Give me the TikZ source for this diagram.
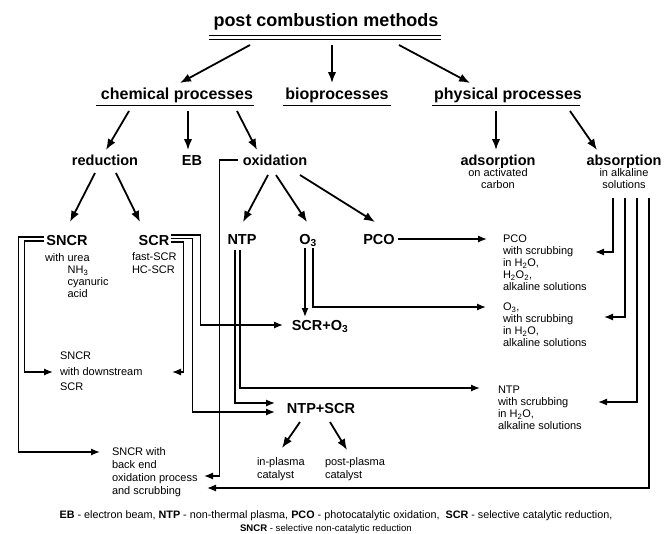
\documentclass[tikz,border=0pt]{standalone}
\usepackage{fontspec}
\setmainfont{Liberation Sans}
\usetikzlibrary{arrows.meta,calc}
\begin{document}
\begin{tikzpicture}[x=1pt,y=-1pt,
  every node/.style={inner sep=0pt, outer sep=0pt, text=black},
  lvlA/.style={font=\fontsize{18}{20}\selectfont\bfseries, anchor=base},
  lvlB/.style={font=\fontsize{16}{19}\selectfont\bfseries, anchor=base},
  lvlC/.style={font=\fontsize{14.5}{17}\selectfont\bfseries, anchor=base},
  note/.style={font=\fontsize{11}{12}\selectfont, align=left, anchor=north west},
  notec/.style={font=\fontsize{11}{12}\selectfont, align=center, anchor=north},
  heavy/.style={line width=1.8pt, -{Latex[length=11pt,width=8.5pt]}},
  route/.style={line width=1.3pt, -{Latex[length=9pt,width=7pt]}},
  uline/.style={line width=0.9pt},
  legfont/.style={font=\fontsize{10.8}{12}\selectfont},
  legfontb/.style={font=\fontsize{9.6}{11}\selectfont}
]
\useasboundingbox[fill=white] (0,0) rectangle (664,533);

% headings
\node[lvlA] (title) at (326,26) {post combustion methods};
\node[lvlB] (chem) at (177,99) {chemical processes};
\node[lvlB] (bio) at (337,99) {bioprocesses};
\node[lvlB] (phys) at (508,99) {physical processes};
\node[lvlC] (red) at (105,165) {reduction};
\node[lvlC] (eb) at (192,165) {EB};
\node[lvlC] (oxi) at (275,165) {oxidation};
\node[lvlC] (ads) at (498,165) {adsorption};
\node[lvlC] (abs) at (624,165) {absorption};
\node[notec] (adsnote) at (498,169) {on activated\\carbon};
\node[notec] (absnote) at (624,169) {in alkaline\\solutions};
\node[lvlC] (sncr) at (67,245) {SNCR};
\node[lvlC] (scr) at (154,245) {SCR};
\node[lvlC] (ntp) at (242,244) {NTP};
\node[lvlC] (o3) at (308,244) {O\textsubscript{3}};
\node[lvlC] (pco) at (379,244) {PCO};
\node[lvlC] (scro3) at (320,330) {SCR+O\textsubscript{3}};
\node[lvlC] (ntpscr) at (321,413) {NTP+SCR};

% small notes
\node[note, font=\fontsize{11}{11.7}\selectfont] (sncrnote) at (45,254) {with urea\\\phantom{with }NH\textsubscript{3}\\\phantom{with }cyanuric\\\phantom{with }acid};
\node[note, font=\fontsize{11}{13}\selectfont] (scrnote) at (132,253) {fast-SCR\\HC-SCR};
\node[note, font=\fontsize{11}{15.5}\selectfont] (sncrds) at (60,352) {SNCR\\with downstream\\SCR};
\node[note, font=\fontsize{11}{13}\selectfont] (sncrbe) at (112,448) {SNCR with\\back end\\oxidation process\\and scrubbing};
\node[note, font=\fontsize{11}{13}\selectfont] (inpl) at (257,458) {in-plasma\\catalyst};
\node[note, font=\fontsize{11}{13}\selectfont] (postpl) at (325,458) {post-plasma\\catalyst};
\node[note] (pcobox) at (503,235) {PCO\\with scrubbing\\in H\textsubscript{2}O,\\H\textsubscript{2}O\textsubscript{2},\\alkaline solutions};
\node[note] (o3box) at (503,303) {O\textsubscript{3},\\with scrubbing\\in H\textsubscript{2}O,\\alkaline solutions};
\node[note] (ntpbox) at (498,386) {NTP\\with scrubbing\\in H\textsubscript{2}O,\\alkaline solutions};

% legend
\node[legfont, anchor=base] (leg1) at (336,518) {\textbf{EB} - electron beam, \textbf{NTP} - non-thermal plasma, \textbf{PCO} - photocatalytic oxidation, \ \textbf{SCR} - selective catalytic reduction,};
\node[legfontb, anchor=base west] (leg2) at (240,531) {\textbf{SNCR} - selective non-catalytic reduction};

% underlines
\draw[uline] ($(title.base west)+(-5,9)$) -- ($(title.base east)+(2,9)$);
\draw[uline] ($(title.base west)+(-5,13)$) -- ($(title.base east)+(2,13)$);
\draw[uline] ($(chem.base west)+(-5,6)$) -- ($(chem.base east)+(1,6)$);
\draw[uline] ($(bio.base west)+(-2,6)$) -- ($(bio.base east)+(2,6)$);
\draw[uline] ($(phys.base west)+(-2,6)$) -- ($(phys.base east)+(-2,6)$);

% heavy arrows
\draw[heavy] ($(title.base)+(-76,19)$) -- ($(chem.base)+(3,-16)$);
\draw[heavy] ($(title.base)+(6,19)$) -- ($(bio.base)+(-5,-16)$);
\draw[heavy] ($(title.base)+(73,19)$) -- ($(phys.base)+(-38,-16)$);
\draw[heavy] ($(chem.base)+(-48,12)$) -- ($(red.base)+(1,-15)$);
\draw[heavy] ($(chem.base)+(11,12)$) -- ($(eb.base)+(-4,-15)$);
\draw[heavy] ($(chem.base)+(60,12)$) -- ($(oxi.base)+(-18,-15)$);
\draw[heavy] ($(phys.base)+(-12,12)$) -- ($(ads.base)+(-2,-15)$);
\draw[heavy] ($(phys.base)+(62,12)$) -- ($(abs.base)+(-27,-15)$);
\draw[heavy] ($(red.base)+(-10,8)$) -- ($(sncr.base)+(3,-23)$);
\draw[heavy] ($(red.base)+(11,8)$) -- ($(scr.base)+(-14,-23)$);
\draw[heavy] ($(oxi.base)+(-7,10)$) -- ($(ntp.base)+(1,-22)$);
\draw[heavy] ($(oxi.base)+(1,10)$) -- ($(o3.base)+(-1,-22)$);
\draw[heavy] ($(oxi.base)+(25,10)$) -- ($(pco.base)+(-4,-22)$);
\draw[heavy] ($(ntpscr.base)+(-21,9)$) -- ($(inpl.north west)+(25,-10)$);
\draw[heavy] ($(ntpscr.base)+(9,9)$) -- ($(postpl.north west)+(22,-8)$);

% routing lines
\draw[route] ($(pco.base east)+(3,-5)$) -- ($(pcobox.north west)+(-16,4)$);
\draw[route] ($(o3.base)+(-3,4)$) -- ($(scro3.base)+(-15,-13)$);
\draw[route] ($(o3.base)+(5,4)$) |- ($(o3box.north west)+(-17,4)$);
\draw[route] ($(scr.base east)+(2,-10)$) -- ++(29,0) |- ($(scro3.base)+(-37,-5)$);
\draw[route] ($(scr.base east)+(2,-6.5)$) -- ++(21,0) |- ($(ntpscr.base)+(-46,-1)$);
\draw[route] ($(scr.base east)+(2,-3)$) -- ++(12,0) |- ($(sncrds.north west)+(112,20)$);
\draw[route] ($(sncr.base west)+(-2,-8)$) -- ++(-26,0) |- ($(sncrbe.north west)+(-12,4)$);
\draw[route] ($(sncr.base west)+(-2,-4)$) -- ++(-20,0) |- ($(sncrds.north west)+(-7,20)$);
\draw[route] ($(ntp.base)+(-2,6)$) |- ($(ntpbox.north west)+(-18,2)$);
\draw[route] ($(ntp.base)+(-7,6)$) |- ($(ntpscr.base)+(-46,-10)$);
\draw[route] ($(oxi.base west)+(-5,-5)$) -- ++(-18,0) |- ($(sncrbe.north west)+(92,28)$);
\draw[route] ($(absnote.south)+(-11,9)$) |- ($(pcobox.north west)+(92,17)$);
\draw[route] ($(absnote.south)+(1,9)$) |- ($(o3box.north west)+(101,14)$);
\draw[route] ($(absnote.south)+(13,9)$) |- ($(ntpbox.north west)+(100,16)$);
\draw[route] ($(absnote.south)+(25,9)$) |- ($(sncrbe.north west)+(95,40)$);
\end{tikzpicture}
\end{document}
